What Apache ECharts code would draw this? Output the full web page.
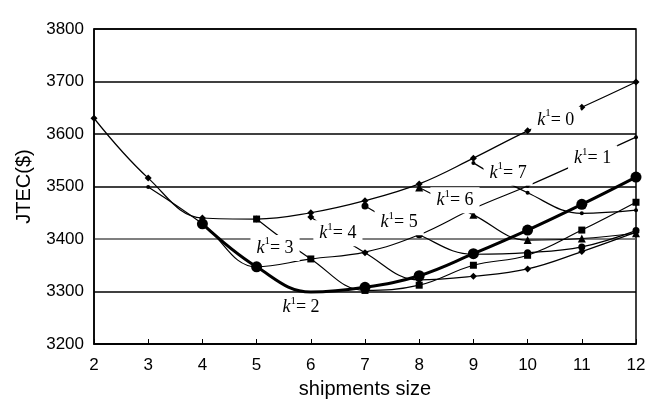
<!DOCTYPE html>
<html>
<head>
<meta charset="utf-8">
<script src="https://cdn.jsdelivr.net/npm/echarts@6/dist/echarts.min.js"></script>
<style>
  html, body { margin: 0; padding: 0; background: #fff; }
  #chart { width: 661px; height: 404px; }
</style>
</head>
<body>
<div id="chart"></div>
<script>
// shipments size on the x axis
const sizes = [2, 3, 4, 5, 6, 7, 8, 9, 10, 11, 12];
const yTicks = [3200, 3300, 3400, 3500, 3600, 3700, 3800];

// JTEC per k1, each curve starts at size k1 + 2 and runs to 12
const k0 = [3630, 3516, 3440, 3438, 3450, 3473, 3505, 3554, 3606, 3651, 3699];
const k1 = [3499, 3429, 3347, 3362, 3375, 3408, 3458, 3501, 3547, 3594];
const k2 = [3429, 3347, 3299, 3308, 3330, 3372, 3417, 3466, 3518];
const k3 = [3438, 3362, 3302, 3312, 3350, 3369, 3417, 3470];
const k4 = [3442, 3374, 3322, 3329, 3343, 3376, 3413];
const k5 = [3463, 3408, 3371, 3374, 3385, 3416];
const k6 = [3498, 3446, 3398, 3401, 3411];
const k7 = [3545, 3488, 3449, 3455];

// curve labels ("k1 = n") in data coordinates
const labelText = ['0', '1', '2', '3', '4', '5', '6', '7'];
const labelX = [10.52, 11.2, 5.82, 5.34, 6.5, 7.63, 8.66, 9.64];
const labelY = [3627, 3554, 3270, 3383, 3411, 3432, 3474, 3526];

function pairs(vals) {
    const start = sizes.length - vals.length;
    return vals.map((v, i) => [sizes[start + i], v]);
}

function curve(name, vals, symbol, size, width) {
    return {
        name: name,
        type: 'line',
        data: pairs(vals),
        smooth: 0.4,
        symbol: symbol,
        symbolSize: size,
        showAllSymbol: true,
        lineStyle: { color: '#000', width: width },
        itemStyle: { color: '#000' },
        z: 3
    };
}

const chart = echarts.init(document.getElementById('chart'));

const serif = 'Liberation Serif';

const option = {
    backgroundColor: '#fff',
    animation: false,
    grid: {
        left: 94, right: 25, top: 29, bottom: 60,
        show: true, borderColor: '#000', borderWidth: 1.5
    },
    xAxis: {
        type: 'value',
        min: 2, max: 12, interval: 1,
        name: 'shipments size',
        nameLocation: 'middle',
        nameGap: 35,
        nameTextStyle: { fontFamily: 'Liberation Sans', fontSize: 20, color: '#000' },
        axisLine: { lineStyle: { color: '#000', width: 1.5 } },
        axisTick: { inside: true, length: 5, lineStyle: { color: '#000' } },
        axisLabel: { fontFamily: 'Liberation Sans', fontSize: 17, color: '#000', margin: 13 },
        splitLine: { show: false }
    },
    yAxis: {
        type: 'value',
        min: yTicks[0], max: yTicks[yTicks.length - 1], interval: 100,
        name: 'JTEC($)',
        nameLocation: 'middle',
        nameGap: 60,
        nameRotate: 90,
        nameTextStyle: { fontFamily: 'Liberation Sans', fontSize: 20, color: '#000' },
        axisLine: { show: true, lineStyle: { color: '#000', width: 1.5 } },
        axisTick: { show: false },
        axisLabel: {
            fontFamily: 'Liberation Sans', fontSize: 17, color: '#000', margin: 10,
            formatter: v => String(v)
        },
        splitLine: {
            show: true,
            lineStyle: { color: ['#000', '#000', '#555', '#000', '#000', '#000', '#000'], width: 1.6 }
        }
    },
    series: [
        curve('k1=0', k0, 'diamond', 7, 1.2),
        curve('k1=1', k1, 'circle', 4, 1.2),
        Object.assign(curve('k1=2', k2, 'circle', 11, 3), {
            // the marker at the minimum sits under the 3300 grid line in the original
            symbolSize: v => (v[0] === 6 ? 0 : 11)
        }),
        curve('k1=3', k3, 'rect', 7, 1.2),
        curve('k1=4', k4, 'diamond', 7, 1.2),
        curve('k1=5', k5, 'circle', 7, 1.2),
        curve('k1=6', k6, 'triangle', 8, 1.2),
        curve('k1=7', k7, 'circle', 4, 1.2),
        {
            type: 'scatter',
            data: labelX.map((x, i) => [x, labelY[i], labelText[i]]),
            symbolSize: 0,
            z: 10,
            silent: true,
            itemStyle: { opacity: 1 },
            label: {
                show: true,
                position: 'inside',
                color: '#000',
                opacity: 1,
                backgroundColor: '#fff',
                padding: [1, 6],
                formatter: p => '{k|k}{s|1}{t|= ' + p.value[2] + '}',
                rich: {
                    k: { fontFamily: serif, fontStyle: 'italic', fontSize: 18, color: '#000' },
                    s: { fontFamily: serif, fontSize: 11, color: '#000', padding: [0, 0, 13, 0] },
                    t: { fontFamily: serif, fontSize: 18, color: '#000' }
                }
            }
        }
    ]
};

chart.setOption(option);
</script>
</body>
</html>
